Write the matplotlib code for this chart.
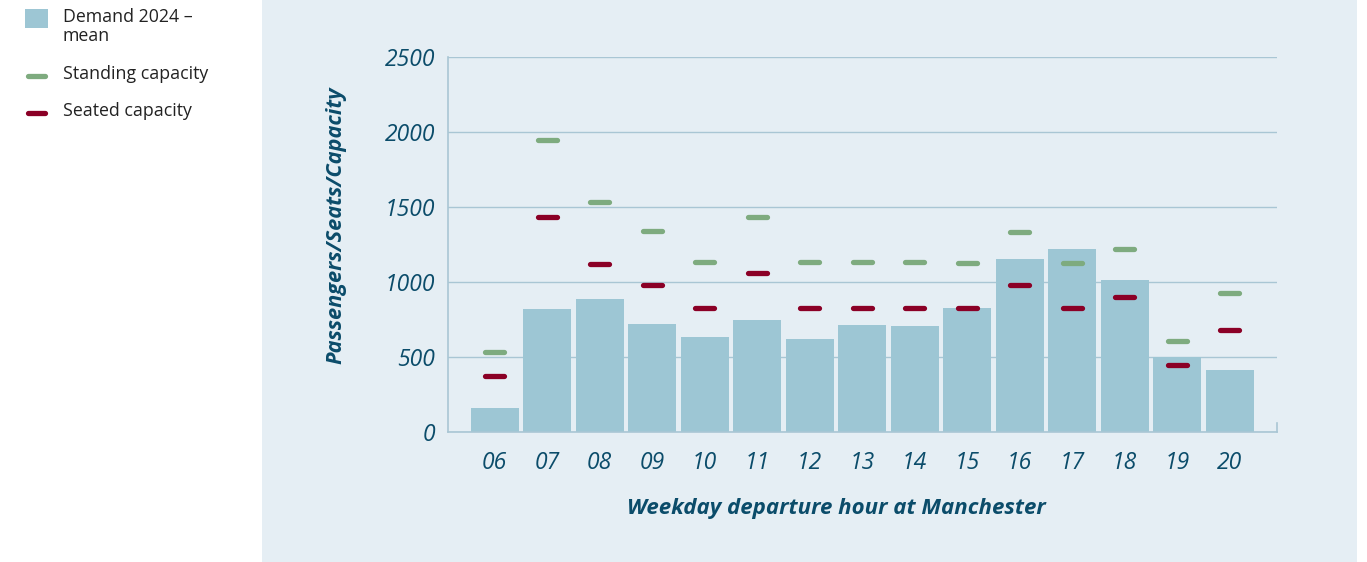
import numpy as np
import matplotlib.pyplot as plt
from matplotlib.patches import Rectangle
from matplotlib.lines import Line2D

hours = ["06", "07", "08", "09", "10", "11", "12", "13", "14", "15", "16", "17", "18", "19", "20"]
demand = [160, 820, 890, 722, 635, 749, 622, 715, 709, 829, 1155, 1222, 1015, 500, 415]
standing = [533, 1944, 1533, 1340, 1131, 1433, 1131, 1131, 1131, 1127, 1335, 1124, 1220, 604, 927]
seated = [373, 1433, 1122, 982, 827, 1058, 827, 827, 827, 824, 982, 824, 902, 447, 678]

BG = "#e5eef4"
BAR = "#9dc6d4"
GREEN = "#7eab7f"
RED = "#8b0026"
TEXT = "#0b4c6a"
GRID = "#a9c6d4"

plt.rcParams["font.family"] = ["Open Sans", "DejaVu Sans"]

W, H = 1367, 562
fig = plt.figure(figsize=(W / 100, H / 100), dpi=100)


def fx(px):
    return px / W


def fy(py):
    return 1 - py / H


fig.patches.append(Rectangle((fx(262), 0), fx(1357 - 262), 1, transform=fig.transFigure,
                             facecolor=BG, edgecolor="none", zorder=-1))

ax = fig.add_axes([fx(448), fy(432), fx(829), 375 / H])
ax.set_facecolor("none")

x = np.arange(len(hours))
ax.bar(x, demand, width=0.914, color=BAR, zorder=2)
half = 0.18
ax.hlines(standing, x - half, x + half, colors=GREEN, linewidth=3.8, capstyle="round", zorder=3)
ax.hlines(seated, x - half, x + half, colors=RED, linewidth=3.8, capstyle="round", zorder=3)

ax.set_xlim(-0.89, 14.9)
ax.set_ylim(0, 2500)
ax.set_yticks([0, 500, 1000, 1500, 2000, 2500])
ax.set_xticks(x)
ax.set_xticklabels(hours)
ax.yaxis.grid(True, color=GRID, linewidth=1, zorder=1)
ax.set_axisbelow(True)
for lbl in ax.get_yticklabels() + ax.get_xticklabels():
    lbl.set_fontstyle("italic")
    lbl.set_fontsize(16.5)
    lbl.set_color(TEXT)
ax.tick_params(axis="both", length=0)
ax.tick_params(axis="y", pad=9)
ax.tick_params(axis="x", pad=14)

for side in ["left", "bottom"]:
    ax.spines[side].set_color(GRID)
    ax.spines[side].set_linewidth(1.2)
ax.spines["top"].set_visible(False)
ax.spines["right"].set_color(GRID)
ax.spines["right"].set_linewidth(1.2)
ax.spines["right"].set_bounds(0, 60)

ax.set_ylabel("Passengers/Seats/Capacity", fontsize=15.7, fontweight="bold", fontstyle="italic",
              color=TEXT)
ax.yaxis.set_label_coords(-0.122, 0.552)
ax.set_xlabel("Weekday departure hour at Manchester", fontsize=16, fontweight="bold",
              fontstyle="italic", color=TEXT)
ax.xaxis.set_label_coords(0.469, -0.176)

# legend, top left on the white strip
fig.add_artist(Rectangle((fx(25), fy(28)), fx(23), 19 / H, transform=fig.transFigure,
                         facecolor=BAR, edgecolor="none"))
fig.add_artist(Line2D([fx(28), fx(45)], [fy(76), fy(76)], transform=fig.transFigure,
                      color=GREEN, linewidth=3.8, solid_capstyle="round"))
fig.add_artist(Line2D([fx(28), fx(45)], [fy(113), fy(113)], transform=fig.transFigure,
                      color=RED, linewidth=3.8, solid_capstyle="round"))
fig.text(fx(63), fy(8), "Demand 2024 –\nmean", fontsize=12.8, color="#222222",
         va="top", ha="left", linespacing=1.05)
fig.text(fx(63), fy(74), "Standing capacity", fontsize=12.8, color="#222222",
         va="center", ha="left")
fig.text(fx(63), fy(111), "Seated capacity", fontsize=12.8, color="#222222",
         va="center", ha="left")

fig.savefig("out.png", dpi=100)
